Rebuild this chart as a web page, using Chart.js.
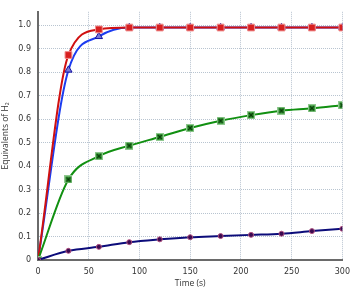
<!DOCTYPE html>
<html>
<head>
<meta charset="utf-8">
<script src="https://cdn.jsdelivr.net/npm/chart.js@4"></script>
<style>
  html, body { margin: 0; padding: 0; background: #fff; }
  #wrap { width: 357px; height: 289px; }
</style>
</head>
<body>
<div id="wrap"><canvas id="chart"></canvas></div>
<script>
"use strict";

var times = [0, 30, 60, 90, 120, 150, 180, 210, 240, 270, 300];
var redValues = [0, 0.873, 0.982, 0.99, 0.99, 0.99, 0.99, 0.99, 0.99, 0.99, 0.99];
var blueValues = [0, 0.809, 0.952, 0.99, 0.99, 0.99, 0.99, 0.99, 0.99, 0.99, 0.99];
var greenValues = [0, 0.343, 0.442, 0.487, 0.524, 0.562, 0.593, 0.617, 0.636, 0.646, 0.659];
var navyValues = [0, 0.039, 0.056, 0.076, 0.088, 0.097, 0.102, 0.107, 0.112, 0.123, 0.133];
var yTicks = [0, 0.1, 0.2, 0.3, 0.4, 0.5, 0.6, 0.7, 0.8, 0.9, 1];
var xTicks = [0, 50, 100, 150, 200, 250, 300];

function pts(values) {
  return values.map((v, i) => ({x: times[i], y: v}));
}

// square with an x inside, for the green series
function boxCross() {
  var c = document.createElement("canvas");
  c.width = 8; c.height = 8;
  var g = c.getContext("2d");
  g.fillStyle = "#3a9a3a";
  g.fillRect(0.5, 0.5, 7, 7);
  g.strokeStyle = "#8fc88f";
  g.lineWidth = 1;
  g.strokeRect(0.5, 0.5, 7, 7);
  g.strokeStyle = "#063a06";
  g.lineWidth = 1.4;
  g.beginPath();
  g.moveTo(2, 2); g.lineTo(6, 6);
  g.moveTo(6, 2); g.lineTo(2, 6);
  g.stroke();
  return c;
}

function series(label, values, color, style, fill, border, radius) {
  return {
    label: label,
    data: pts(values),
    borderColor: color,
    borderWidth: 2,
    pointStyle: style,
    pointRadius: radius,
    pointBackgroundColor: fill,
    pointBorderColor: border,
    pointBorderWidth: 1,
    cubicInterpolationMode: "monotone",
    fill: false
  };
}

Chart.defaults.font.family = "'DejaVu Sans', Verdana, sans-serif";
Chart.defaults.font.size = 8;
Chart.defaults.color = "#333";

var gridColor = "#b8c4d0";

var chart = new Chart("chart", {
  type: "line",
  data: {
    datasets: [
      series("navy", navyValues, "#0c0c7a", "circle", "#3a0a50", "#b05080", 2.5),
      series("green", greenValues, "#119011", boxCross(), "#3a9a3a", "#8fc88f", 4),
      series("red", redValues, "#d01010", "rect", "#d82020", "#f09090", 4.8),
      series("blue", blueValues, "#1c3cf0", "triangle", "#7878d8", "#1010a0", 4.2)
    ]
  },
  options: {
    responsive: true,
    maintainAspectRatio: false,
    animation: false,
    layout: { padding: { top: 0, right: 9, left: 0, bottom: 0 } },
    plugins: { legend: { display: false }, tooltip: { enabled: false } },
    scales: {
      x: {
        type: "linear",
        min: 0,
        max: 300,
        afterBuildTicks: s => { s.ticks = xTicks.map(v => ({value: v})); },
        afterFit: s => { s.height = 29; },
        ticks: { padding: 7, maxRotation: 0 },
        grid: { color: gridColor, lineWidth: 1, drawTicks: false },
        border: { color: "#6a6a6a", width: 2, dash: [1, 1] },
        title: {
          display: true,
          text: "Time (s)",
          font: { family: "'Open Sans', sans-serif", size: 8.5 },
          padding: { top: 0, bottom: 0 }
        }
      },
      y: {
        min: 0,
        max: 1.057,
        afterBuildTicks: s => { s.ticks = yTicks.map(v => ({value: v})); },
        afterFit: s => { s.width = 38; },
        ticks: { padding: 7 },
        grid: { color: gridColor, lineWidth: 1, drawTicks: false },
        border: { color: "#6a6a6a", width: 2, dash: [1, 1] },
        title: {
          display: true,
          text: "Equivalents of H\u2082",
          font: { family: "'Open Sans', sans-serif", size: 8.5 },
          padding: { top: 0, bottom: 2 }
        }
      }
    }
  }
});
</script>
</body>
</html>
